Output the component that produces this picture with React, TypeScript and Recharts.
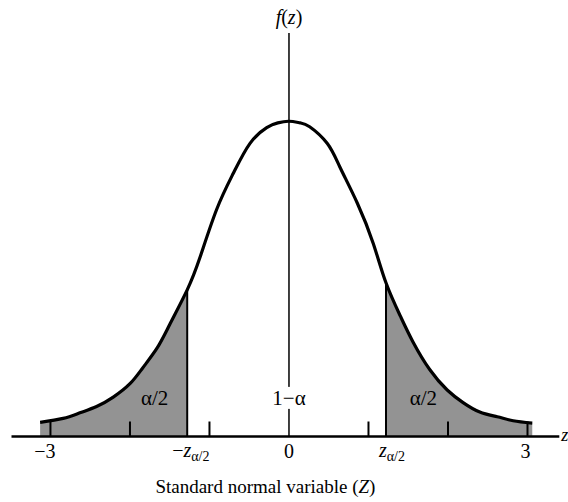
import React from "react";
import {
  ComposedChart,
  Line,
  Area,
  XAxis,
  YAxis,
  ReferenceLine,
  ReferenceDot,
} from "recharts";

// standard normal variable z and density f(z)
const zValues = [
  -3.13, -2.84, -2.63, -2.42, -2.21, -2.0, -1.84, -1.66, -1.5, -1.28, -1.12, -0.91, -0.7, -0.49, -0.28, -0.14,
  0, 0.14, 0.26, 0.48, 0.64, 0.86, 1.06, 1.22, 1.4, 1.56, 1.77, 1.99, 2.19, 2.4, 2.62, 2.82, 3.06,
];
const density = [
  0.018, 0.023, 0.03, 0.038, 0.05, 0.067, 0.087, 0.112, 0.142, 0.186, 0.227, 0.288, 0.334, 0.372, 0.392, 0.398,
  0.4, 0.398, 0.393, 0.372, 0.342, 0.296, 0.245, 0.195, 0.153, 0.12, 0.085, 0.059, 0.043, 0.031, 0.025, 0.02, 0.017,
];
// critical values -z_{α/2}, z_{α/2}
const criticalZ = [-1.28, 1.22];
const markedTicks = [-3, -2, -1, 1, 2, 3];
const numberTicks = [-3, 0, 3];
const numberTickLabels = ["\u22123", "0", "3"];
const tickValues = [-3, -2, criticalZ[0], -1, 0, 1, criticalZ[1], 2, 3];
const tailLabelZ = [-1.69, 1.69];
const annotationY = 0.049;
const tailLabel = "\u03b1/2";
const centerLabel = "1\u2212\u03b1";
const axisTitle = "Standard normal variable (";
const axisTitleVar = "Z";

const data = zValues.map((z, i) => ({
  z,
  f: density[i],
  left: z <= criticalZ[0] ? density[i] : null,
  right: z >= criticalZ[1] ? density[i] : null,
}));

const critDensity = criticalZ.map((c) => density[zValues.indexOf(c)]);

const FONT = "'Liberation Serif', 'Times New Roman', serif";
const SHADE = "#939393";
const CURVE = "natural";

function AxisTick(props: any) {
  const { x, y, payload } = props;
  const v = payload.value;
  const items: React.ReactNode[] = [];
  if (markedTicks.includes(v)) {
    items.push(<line key="m" x1={x} y1={y} x2={x} y2={y - 15} stroke="#000" strokeWidth={2} />);
  }
  const ni = numberTicks.indexOf(v);
  if (ni >= 0) {
    const neg = v < 0;
    items.push(
      <text
        key="t"
        x={neg ? x + 5 : v > 0 ? x - 2 : x}
        y={y + 21}
        textAnchor={neg ? "end" : "middle"}
        fontSize={20}
        fontFamily={FONT}
        fill="#000"
      >
        {numberTickLabels[ni]}
      </text>
    );
  }
  if (v === criticalZ[0] || v === criticalZ[1]) {
    const neg = v < 0;
    items.push(
      <text key="c" x={neg ? x - 15 : x - 7} y={y + 20.5} fontSize={20} fontFamily={FONT} fill="#000">
        {neg ? <tspan>{"\u2212"}</tspan> : null}
        <tspan fontStyle="italic">z</tspan>
        <tspan fontSize={14} dy={4}>
          {"\u03b1/2"}
        </tspan>
      </text>
    );
  }
  return <g>{items}</g>;
}

function TextAt(text: string, boxed: boolean) {
  return (props: any) => {
    const vb = props.viewBox || {};
    const cx = vb.x + (vb.width || 0) / 2;
    const cy = vb.y + (vb.height || 0) / 2;
    return (
      <g>
        {boxed ? <rect x={cx - 22} y={cy - 11} width={44} height={22} fill="#fff" /> : null}
        <text x={cx} y={cy + 7} textAnchor="middle" fontSize={21} fontFamily={FONT} fill="#000">
          {text}
        </text>
      </g>
    );
  };
}

export default function App() {
  return (
    <div style={{ position: "absolute", left: 0, top: 0, background: "#fff" }}>
      <ComposedChart
        width={568}
        height={502}
        data={data}
        margin={{ top: 33, right: 8.7, left: 11.5, bottom: 35.5 }}
      >
        <YAxis hide type="number" domain={[0, 0.512]} allowDataOverflow />
        <Area
          type={CURVE}
          dataKey="left"
          stroke="none"
          fill={SHADE}
          fillOpacity={1}
          isAnimationActive={false}
          connectNulls={false}
          dot={false}
          activeDot={false}
        />
        <Area
          type={CURVE}
          dataKey="right"
          stroke="none"
          fill={SHADE}
          fillOpacity={1}
          isAnimationActive={false}
          connectNulls={false}
          dot={false}
          activeDot={false}
        />
        <ReferenceLine
          segment={[
            { x: criticalZ[0], y: 0 },
            { x: criticalZ[0], y: critDensity[0] },
          ]}
          stroke="#000"
          strokeWidth={2}
        />
        <ReferenceLine
          segment={[
            { x: criticalZ[1], y: 0 },
            { x: criticalZ[1], y: critDensity[1] },
          ]}
          stroke="#000"
          strokeWidth={2}
        />
        <ReferenceLine
          x={0}
          stroke="#000"
          strokeWidth={1.5}
          label={(props: any) => {
            const vb = props.viewBox || {};
            return (
              <text x={vb.x} y={vb.y - 9} textAnchor="middle" fontSize={20} fontFamily={FONT} fill="#000">
                <tspan fontStyle="italic">f</tspan>
                <tspan>(</tspan>
                <tspan fontStyle="italic">z</tspan>
                <tspan>)</tspan>
              </text>
            );
          }}
        />
        <Line
          type={CURVE}
          dataKey="f"
          stroke="#000"
          strokeWidth={3.2}
          dot={false}
          activeDot={false}
          isAnimationActive={false}
        />
        <ReferenceDot x={tailLabelZ[0]} y={annotationY} r={0} fill="none" stroke="none" label={TextAt(tailLabel, false)} />
        <ReferenceDot x={tailLabelZ[1]} y={annotationY} r={0} fill="none" stroke="none" label={TextAt(tailLabel, false)} />
        <ReferenceDot x={0} y={annotationY} r={0} fill="none" stroke="none" label={TextAt(centerLabel, true)} />
        <XAxis
          type="number"
          dataKey="z"
          domain={[-3.49, 3.4]}
          allowDataOverflow
          ticks={tickValues}
          interval={0}
          tickSize={0}
          tickMargin={0}
          tickLine={false}
          tick={<AxisTick />}
          height={30}
          axisLine={{ stroke: "#000", strokeWidth: 2.5 }}
          label={(props: any) => {
            const vb = props.viewBox || { x: 11.5, y: 436.5, width: 547.8, height: 30 };
            return (
              <g>
                <text
                  x={vb.x + vb.width / 2 - 20}
                  y={vb.y + 56}
                  textAnchor="middle"
                  fontSize={19}
                  fontFamily={FONT}
                  fill="#000"
                >
                  {axisTitle}
                  <tspan fontStyle="italic">{axisTitleVar}</tspan>
                  <tspan>)</tspan>
                </text>
                <text x={vb.x + vb.width + 2} y={vb.y + 4.5} fontSize={18} fontStyle="italic" fontFamily={FONT} fill="#000">
                  z
                </text>
              </g>
            );
          }}
        />
      </ComposedChart>
    </div>
  );
}
